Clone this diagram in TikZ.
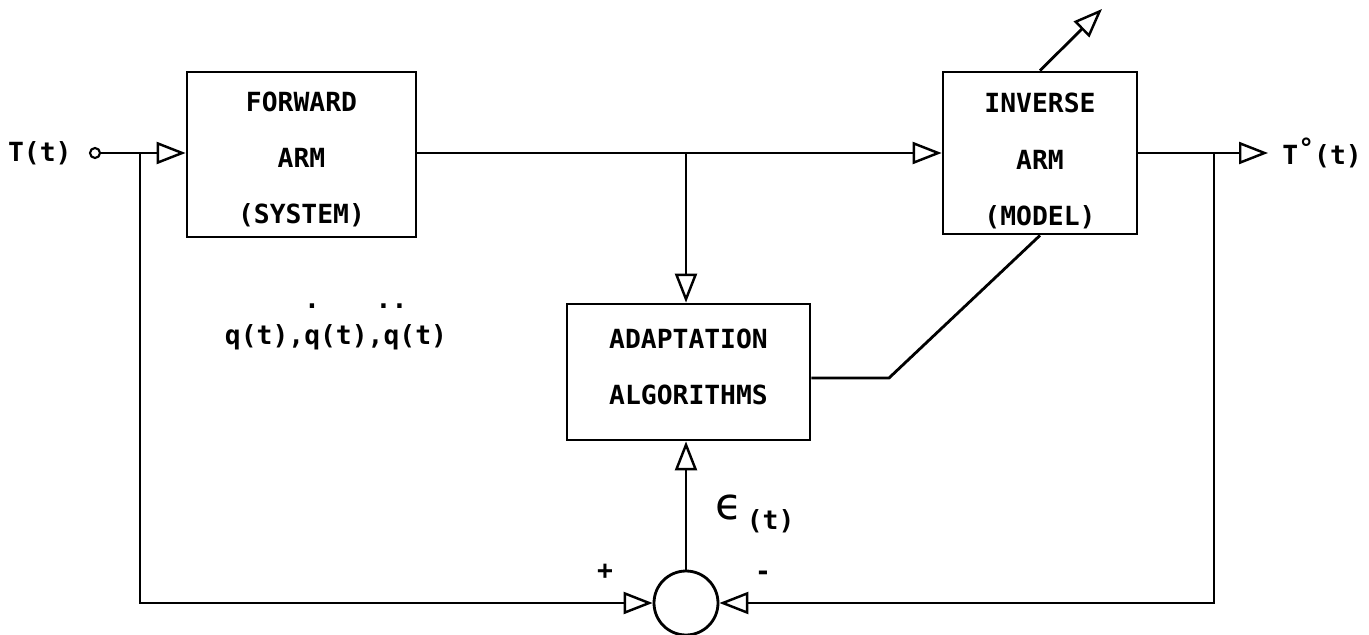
\documentclass[tikz,border=0pt]{standalone}
\usepackage{fontspec}
\setmonofont{DejaVu Sans Mono}
\newfontfamily\epsfont{DejaVu Sans}
\usetikzlibrary{arrows.meta, positioning, calc}
\newcommand{\txtfont}{\ttfamily\bfseries\fontsize{15}{32}\selectfont}
\newcommand{\dotsover}[1]{\makebox[0pt][l]{\makebox[0.6em]{\raisebox{1.35em}{#1}}}}

\begin{document}
\begin{tikzpicture}[x=0.02cm, y=-0.02cm, line width=1.6pt,
    block/.style 2 args={draw, minimum width=#1, minimum height=#2, inner sep=0pt},
    lbl/.style={font=\txtfont, inner sep=0pt},
    flow/.style={-{Triangle[open, length=0.58cm, width=0.44cm, line width=1.4pt]}},
]
    \useasboundingbox (0,0) rectangle (1369,635);

    % === blocks ===
    \node[block={4.58cm}{3.3cm}] (fwd) at (301.5,154.5) {};
    \node[block={3.88cm}{3.24cm}] (inv) at (1040,153) {};
    \node[block={4.86cm}{2.72cm}] (adapt) at (688.5,372) {};
    \node[draw, circle, minimum size=1.28cm, inner sep=0pt] (sum) at (686,603) {};
    \node[lbl, align=center] (fwdtxt) at ($(fwd.center)+(0,5)$) {FORWARD\\ARM\\(SYSTEM)};
    \node[lbl, align=center] (invtxt) at ($(inv.center)+(0,8)$) {INVERSE\\ARM\\(MODEL)};
    \node[lbl, align=center] (adapttxt) at ($(adapt.center)+(0,-5)$) {ADAPTATION\\ALGORITHMS};

    % === input / output ===
    \node[draw, circle, line width=1.2pt, minimum size=0.2cm, inner sep=0pt] (src) at (95,153) {};
    \node[lbl, left=0.32cm of src] (tin) {T(t)};
    \coordinate (tap) at (140,153);
    \coordinate (jn) at (686,153);
    \coordinate (otap) at (1214,153);
    \coordinate (oend) at (1268,153);
    \node[lbl, right=0.26cm of oend] (tout) {T\raisebox{0.3em}{°}(t)};

    \draw[flow] (src) -- (fwd.west |- src);
    \draw[flow] (fwd.east |- jn) -- (inv.west |- jn);
    \draw[flow] (jn) -- (jn |- adapt.north);
    \draw[flow] (inv.east |- otap) -- (oend);

    % === error feedback ===
    \draw[flow] (tap) |- (sum.west);
    \draw[flow] (otap) |- (sum.east);
    \draw[flow] (sum.north) -- (sum.north |- adapt.south);
    \node[lbl] (plus) at (605,572) {+};
    \node[lbl] (minus) at (763,576) {-};
    \node[lbl, anchor=west] (err) at (714,514) {{\epsfont\mdseries\fontsize{25}{25}\selectfont ϵ}\,\raisebox{-0.35em}{(t)}};

    % === parameter adjustment ===
    \coordinate (bend) at (889,378);
    \coordinate (tune) at (1102,9);
    \draw (adapt.east |- bend) -- (bend) -- (inv.south);
    \draw[flow] (inv.north) -- (tune);

    \node[lbl, anchor=base] (qs) at (336,344) {q(t),\dotsover{.}q(t),\dotsover{..}q(t)};
\end{tikzpicture}
\end{document}
